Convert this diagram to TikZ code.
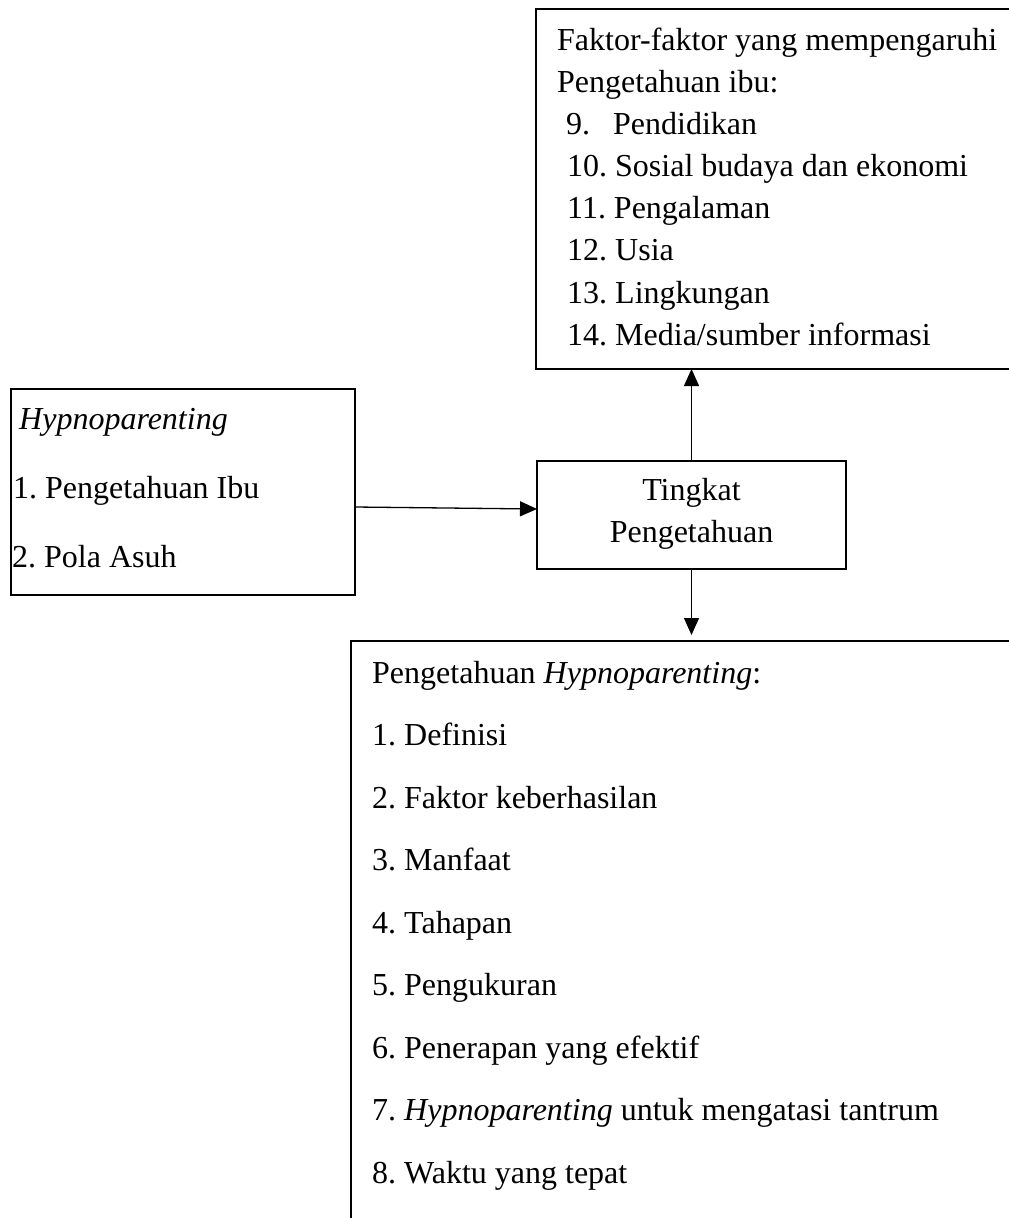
\documentclass[tikz,border=0pt]{standalone}
\usepackage{fontspec}
\setmainfont{Liberation Serif}
\usetikzlibrary{arrows.meta}
\frenchspacing
\begin{document}
\begin{tikzpicture}[x=1pt,y=-1pt,
  box/.style={draw,line width=1.3pt,inner sep=0pt,outer sep=0pt,anchor=north west},
  txt/.style={inner sep=0pt,anchor=base west,font=\fontsize{32}{40}\selectfont},
  ctxt/.style={inner sep=0pt,anchor=base,font=\fontsize{32}{40}\selectfont},
  arr/.style={line width=1.3pt,-{Triangle[length=17pt,width=15pt]}}]
\useasboundingbox (0,0) rectangle (1009,1218);
\clip (0,0) rectangle (1009,1218);
% boxes
\node[box,minimum width=520pt,minimum height=360pt] (top) at (536,9) {};
\node[box,minimum width=344pt,minimum height=206pt] (left) at (11,389) {};
\node[box,minimum width=309pt,minimum height=108pt] (mid) at (537,461) {};
\node[box,minimum width=720pt,minimum height=640pt] (bot) at (351,641) {};
% top box text
\node[txt] (t0) at (557,50) {Faktor-faktor yang mempengaruhi};
\node[txt] (t1) at (557,92) {Pengetahuan ibu:};
\node[txt] (t2) at (566,134) {\makebox[47pt][l]{9.}Pendidikan};
\node[txt] (t3) at (567,176) {10. Sosial budaya dan ekonomi};
\node[txt] (t4) at (567,218) {11. Pengalaman};
\node[txt] (t5) at (567,260) {12. Usia};
\node[txt] (t6) at (567,303) {13. Lingkungan};
\node[txt] (t7) at (567,345) {14. Media/sumber informasi};
% left box text
\node[txt] (l0) at (19,429) {\textit{Hypnoparenting}};
\node[txt] (l1) at (13,498) {1. Pengetahuan Ibu};
\node[txt] (l2) at (12,567) {2. Pola Asuh};
% middle box text
\node[ctxt] (m0) at (691.5,500) {Tingkat};
\node[ctxt] (m1) at (691.5,542) {Pengetahuan};
% bottom box text
\node[txt] (b0) at (372,683) {Pengetahuan \textit{Hypnoparenting}:};
\node[txt] (b1) at (372,745.5) {1. Definisi};
\node[txt] (b2) at (372,808) {2. Faktor keberhasilan};
\node[txt] (b3) at (372,870.5) {3. Manfaat};
\node[txt] (b4) at (372,933) {4. Tahapan};
\node[txt] (b5) at (372,995.5) {5. Pengukuran};
\node[txt] (b6) at (372,1058) {6. Penerapan yang efektif};
\node[txt] (b7) at (372,1120.5) {7. \textit{Hypnoparenting} untuk mengatasi tantrum};
\node[txt] (b8) at (372,1183) {8. Waktu yang tepat};
% connectors
\coordinate (hy1) at (0,507);
\coordinate (hy2) at (0,509);
\draw[arr] (left.east |- hy1) -- (mid.west |- hy2);
\draw[arr] (mid.north) -- (mid.north |- top.south);
\draw[arr,shorten >=6pt] (mid.south) -- (mid.south |- bot.north);
\end{tikzpicture}
\end{document}
